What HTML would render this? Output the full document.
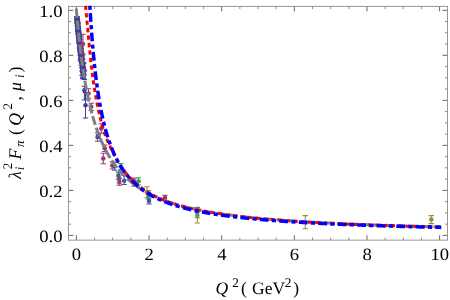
<!DOCTYPE html>
<html><head><meta charset="utf-8"><title>Pion form factor</title>
<style>
html,body{margin:0;padding:0;background:#fff;}
body{width:450px;height:300px;overflow:hidden;font-family:"Liberation Serif",serif;}
svg{display:block;}
</style></head><body>
<svg width="450" height="300" viewBox="0 0 450 300">
<rect x="0" y="0" width="450" height="300" fill="#ffffff"/>
<defs><clipPath id="c"><rect x="68.45" y="5.40" width="379.05" height="234.75"/></clipPath></defs>
<path d="M94.58 240.15v-2.60M94.58 6.40v2.60M112.74 240.15v-2.60M112.74 6.40v2.60M130.90 240.15v-2.60M130.90 6.40v2.60M167.22 240.15v-2.60M167.22 6.40v2.60M185.38 240.15v-2.60M185.38 6.40v2.60M203.54 240.15v-2.60M203.54 6.40v2.60M239.86 240.15v-2.60M239.86 6.40v2.60M258.02 240.15v-2.60M258.02 6.40v2.60M276.18 240.15v-2.60M276.18 6.40v2.60M312.50 240.15v-2.60M312.50 6.40v2.60M330.66 240.15v-2.60M330.66 6.40v2.60M348.82 240.15v-2.60M348.82 6.40v2.60M385.14 240.15v-2.60M385.14 6.40v2.60M403.30 240.15v-2.60M403.30 6.40v2.60M421.46 240.15v-2.60M421.46 6.40v2.60M68.45 224.15h2.60M447.50 224.15h-2.60M68.45 212.89h2.60M447.50 212.89h-2.60M68.45 201.63h2.60M447.50 201.63h-2.60M68.45 179.12h2.60M447.50 179.12h-2.60M68.45 167.87h2.60M447.50 167.87h-2.60M68.45 156.62h2.60M447.50 156.62h-2.60M68.45 134.11h2.60M447.50 134.11h-2.60M68.45 122.85h2.60M447.50 122.85h-2.60M68.45 111.59h2.60M447.50 111.59h-2.60M68.45 89.09h2.60M447.50 89.09h-2.60M68.45 77.83h2.60M447.50 77.83h-2.60M68.45 66.58h2.60M447.50 66.58h-2.60M68.45 44.06h2.60M447.50 44.06h-2.60M68.45 32.81h2.60M447.50 32.81h-2.60M68.45 21.56h2.60M447.50 21.56h-2.60" fill="none" stroke="#8a8a8a" stroke-width="1"/>
<path d="M76.42 240.15v-4.90M76.42 6.40v4.90M149.06 240.15v-4.90M149.06 6.40v4.90M221.70 240.15v-4.90M221.70 6.40v4.90M294.34 240.15v-4.90M294.34 6.40v4.90M366.98 240.15v-4.90M366.98 6.40v4.90M439.62 240.15v-4.90M439.62 6.40v4.90M68.45 235.40h4.90M447.50 235.40h-4.90M68.45 190.38h4.90M447.50 190.38h-4.90M68.45 145.36h4.90M447.50 145.36h-4.90M68.45 100.34h4.90M447.50 100.34h-4.90M68.45 55.32h4.90M447.50 55.32h-4.90M68.45 10.30h4.90M447.50 10.30h-4.90" fill="none" stroke="#646464" stroke-width="1"/>
<rect x="68.45" y="6.40" width="379.05" height="233.75" fill="none" stroke="#969696" stroke-width="1"/>
<g clip-path="url(#c)">
<path d="M77.02 17.29L77.09 18.04L77.15 18.79L77.22 19.53L77.29 20.27L77.35 21.00L77.42 21.73L77.49 22.45L77.55 23.17L77.62 23.88L77.69 24.59L77.75 25.29L77.82 25.99L77.89 26.69L77.95 27.38L78.02 28.06L78.09 28.74L78.15 29.42L78.22 30.09L78.29 30.76L78.36 31.42L78.42 32.08L78.49 32.74L78.56 33.39L78.62 34.04L78.69 34.68L78.76 35.32L78.82 35.95L78.89 36.58L78.96 37.21L79.02 37.83L79.09 38.45L79.16 39.07L79.22 39.68L79.29 40.29L79.36 40.89L79.42 41.50L79.49 42.09L79.56 42.69L79.62 43.28L79.69 43.86L79.76 44.45L79.82 45.03L79.89 45.60L79.96 46.18L80.02 46.75L80.09 47.31L80.16 47.88L80.23 48.44L80.29 48.99L80.36 49.54L80.43 50.09L80.49 50.64L80.56 51.19L80.63 51.73L80.69 52.26L80.76 52.80L80.83 53.33L80.89 53.86L80.96 54.38" fill="none" stroke="#3f3d99" stroke-width="5.2" stroke-opacity="0.92"/>
<g stroke="#3f3d99" fill="#3f3d99" stroke-width="1.03"><path d="M76.97 16.63V18.86M74.22 16.63H79.72M74.22 18.86H79.72" fill="none"/><circle cx="76.97" cy="17.75" r="2.08" stroke="none"/></g>
<g stroke="#3f3d99" fill="#3f3d99" stroke-width="1.04"><path d="M77.01 16.93V19.24M74.26 16.93H79.76M74.26 19.24H79.76" fill="none"/><circle cx="77.01" cy="18.08" r="2.09" stroke="none"/></g>
<g stroke="#3f3d99" fill="#3f3d99" stroke-width="1.04"><path d="M77.15 17.88V20.25M74.40 17.88H79.90M74.40 20.25H79.90" fill="none"/><circle cx="77.15" cy="19.07" r="2.09" stroke="none"/></g>
<g stroke="#3f3d99" fill="#3f3d99" stroke-width="1.05"><path d="M77.26 19.42V21.87M74.51 19.42H80.01M74.51 21.87H80.01" fill="none"/><circle cx="77.26" cy="20.64" r="2.10" stroke="none"/></g>
<g stroke="#3f3d99" fill="#3f3d99" stroke-width="1.05"><path d="M77.31 20.24V22.77M74.56 20.24H80.06M74.56 22.77H80.06" fill="none"/><circle cx="77.31" cy="21.51" r="2.10" stroke="none"/></g>
<g stroke="#3f3d99" fill="#3f3d99" stroke-width="1.05"><path d="M77.27 20.97V23.57M74.52 20.97H80.02M74.52 23.57H80.02" fill="none"/><circle cx="77.27" cy="22.27" r="2.10" stroke="none"/></g>
<g stroke="#3f3d99" fill="#3f3d99" stroke-width="1.06"><path d="M77.59 21.10V23.78M74.84 21.10H80.34M74.84 23.78H80.34" fill="none"/><circle cx="77.59" cy="22.44" r="2.11" stroke="none"/></g>
<g stroke="#3f3d99" fill="#3f3d99" stroke-width="1.06"><path d="M77.44 22.41V25.17M74.69 22.41H80.19M74.69 25.17H80.19" fill="none"/><circle cx="77.44" cy="23.79" r="2.11" stroke="none"/></g>
<g stroke="#3f3d99" fill="#3f3d99" stroke-width="1.07"><path d="M77.80 22.19V25.03M75.05 22.19H80.55M75.05 25.03H80.55" fill="none"/><circle cx="77.80" cy="23.61" r="2.12" stroke="none"/></g>
<g stroke="#3f3d99" fill="#3f3d99" stroke-width="1.07"><path d="M77.65 23.02V25.93M74.90 23.02H80.40M74.90 25.93H80.40" fill="none"/><circle cx="77.65" cy="24.48" r="2.12" stroke="none"/></g>
<g stroke="#3f3d99" fill="#3f3d99" stroke-width="1.07"><path d="M77.56 22.92V25.91M74.81 22.92H80.31M74.81 25.91H80.31" fill="none"/><circle cx="77.56" cy="24.41" r="2.12" stroke="none"/></g>
<g stroke="#3f3d99" fill="#3f3d99" stroke-width="1.08"><path d="M77.74 23.86V26.93M74.99 23.86H80.49M74.99 26.93H80.49" fill="none"/><circle cx="77.74" cy="25.39" r="2.13" stroke="none"/></g>
<g stroke="#3f3d99" fill="#3f3d99" stroke-width="1.08"><path d="M77.75 26.48V29.67M75.00 26.48H80.50M75.00 29.67H80.50" fill="none"/><circle cx="77.75" cy="28.08" r="2.13" stroke="none"/></g>
<g stroke="#3f3d99" fill="#3f3d99" stroke-width="1.09"><path d="M78.18 26.84V30.10M75.43 26.84H80.93M75.43 30.10H80.93" fill="none"/><circle cx="78.18" cy="28.47" r="2.14" stroke="none"/></g>
<g stroke="#3f3d99" fill="#3f3d99" stroke-width="1.09"><path d="M78.14 27.85V31.19M75.39 27.85H80.89M75.39 31.19H80.89" fill="none"/><circle cx="78.14" cy="29.52" r="2.14" stroke="none"/></g>
<g stroke="#3f3d99" fill="#3f3d99" stroke-width="1.10"><path d="M78.09 27.46V30.88M75.34 27.46H80.84M75.34 30.88H80.84" fill="none"/><circle cx="78.09" cy="29.17" r="2.15" stroke="none"/></g>
<g stroke="#3f3d99" fill="#3f3d99" stroke-width="1.10"><path d="M77.97 28.37V31.86M75.22 28.37H80.72M75.22 31.86H80.72" fill="none"/><circle cx="77.97" cy="30.12" r="2.15" stroke="none"/></g>
<g stroke="#3f3d99" fill="#3f3d99" stroke-width="1.10"><path d="M78.13 30.30V33.86M75.38 30.30H80.88M75.38 33.86H80.88" fill="none"/><circle cx="78.13" cy="32.08" r="2.15" stroke="none"/></g>
<g stroke="#3f3d99" fill="#3f3d99" stroke-width="1.11"><path d="M78.33 29.39V33.03M75.58 29.39H81.08M75.58 33.03H81.08" fill="none"/><circle cx="78.33" cy="31.21" r="2.16" stroke="none"/></g>
<g stroke="#3f3d99" fill="#3f3d99" stroke-width="1.11"><path d="M78.51 31.03V34.75M75.76 31.03H81.26M75.76 34.75H81.26" fill="none"/><circle cx="78.51" cy="32.89" r="2.16" stroke="none"/></g>
<g stroke="#3f3d99" fill="#3f3d99" stroke-width="1.12"><path d="M78.39 31.34V35.13M75.64 31.34H81.14M75.64 35.13H81.14" fill="none"/><circle cx="78.39" cy="33.23" r="2.17" stroke="none"/></g>
<g stroke="#3f3d99" fill="#3f3d99" stroke-width="1.12"><path d="M78.74 31.05V34.93M75.99 31.05H81.49M75.99 34.93H81.49" fill="none"/><circle cx="78.74" cy="32.99" r="2.17" stroke="none"/></g>
<g stroke="#3f3d99" fill="#3f3d99" stroke-width="1.12"><path d="M78.73 33.27V37.22M75.98 33.27H81.48M75.98 37.22H81.48" fill="none"/><circle cx="78.73" cy="35.24" r="2.17" stroke="none"/></g>
<g stroke="#3f3d99" fill="#3f3d99" stroke-width="1.13"><path d="M79.03 33.12V37.15M76.28 33.12H81.78M76.28 37.15H81.78" fill="none"/><circle cx="79.03" cy="35.14" r="2.18" stroke="none"/></g>
<g stroke="#3f3d99" fill="#3f3d99" stroke-width="1.13"><path d="M78.65 33.17V37.27M75.90 33.17H81.40M75.90 37.27H81.40" fill="none"/><circle cx="78.65" cy="35.22" r="2.18" stroke="none"/></g>
<g stroke="#3f3d99" fill="#3f3d99" stroke-width="1.14"><path d="M78.58 33.04V37.21M75.83 33.04H81.33M75.83 37.21H81.33" fill="none"/><circle cx="78.58" cy="35.13" r="2.19" stroke="none"/></g>
<g stroke="#3f3d99" fill="#3f3d99" stroke-width="1.14"><path d="M79.18 35.40V39.65M76.43 35.40H81.93M76.43 39.65H81.93" fill="none"/><circle cx="79.18" cy="37.52" r="2.19" stroke="none"/></g>
<g stroke="#3f3d99" fill="#3f3d99" stroke-width="1.14"><path d="M79.03 36.88V41.21M76.28 36.88H81.78M76.28 41.21H81.78" fill="none"/><circle cx="79.03" cy="39.05" r="2.19" stroke="none"/></g>
<g stroke="#3f3d99" fill="#3f3d99" stroke-width="1.15"><path d="M79.26 37.90V42.31M76.51 37.90H82.01M76.51 42.31H82.01" fill="none"/><circle cx="79.26" cy="40.11" r="2.20" stroke="none"/></g>
<g stroke="#3f3d99" fill="#3f3d99" stroke-width="1.15"><path d="M79.25 36.17V40.66M76.50 36.17H82.00M76.50 40.66H82.00" fill="none"/><circle cx="79.25" cy="38.42" r="2.20" stroke="none"/></g>
<g stroke="#3f3d99" fill="#3f3d99" stroke-width="1.16"><path d="M79.08 36.41V40.97M76.33 36.41H81.83M76.33 40.97H81.83" fill="none"/><circle cx="79.08" cy="38.69" r="2.21" stroke="none"/></g>
<g stroke="#3f3d99" fill="#3f3d99" stroke-width="1.16"><path d="M79.42 37.62V42.26M76.67 37.62H82.17M76.67 42.26H82.17" fill="none"/><circle cx="79.42" cy="39.94" r="2.21" stroke="none"/></g>
<g stroke="#3f3d99" fill="#3f3d99" stroke-width="1.17"><path d="M79.39 38.94V43.69M76.64 38.94H82.14M76.64 43.69H82.14" fill="none"/><circle cx="79.39" cy="41.31" r="2.22" stroke="none"/></g>
<g stroke="#3f3d99" fill="#3f3d99" stroke-width="1.18"><path d="M80.13 39.78V44.76M77.38 39.78H82.88M77.38 44.76H82.88" fill="none"/><circle cx="80.13" cy="42.27" r="2.23" stroke="none"/></g>
<g stroke="#3f3d99" fill="#3f3d99" stroke-width="1.19"><path d="M80.06 42.92V48.13M77.31 42.92H82.81M77.31 48.13H82.81" fill="none"/><circle cx="80.06" cy="45.52" r="2.24" stroke="none"/></g>
<g stroke="#3f3d99" fill="#3f3d99" stroke-width="1.20"><path d="M80.33 46.36V51.80M77.58 46.36H83.08M77.58 51.80H83.08" fill="none"/><circle cx="80.33" cy="49.08" r="2.25" stroke="none"/></g>
<g stroke="#3f3d99" fill="#3f3d99" stroke-width="1.21"><path d="M80.94 45.65V51.32M78.19 45.65H83.69M78.19 51.32H83.69" fill="none"/><circle cx="80.94" cy="48.48" r="2.26" stroke="none"/></g>
<g stroke="#3f3d99" fill="#3f3d99" stroke-width="1.23"><path d="M80.23 46.51V52.41M77.48 46.51H82.98M77.48 52.41H82.98" fill="none"/><circle cx="80.23" cy="49.46" r="2.28" stroke="none"/></g>
<g stroke="#3f3d99" fill="#3f3d99" stroke-width="1.24"><path d="M80.98 50.12V56.25M78.23 50.12H83.73M78.23 56.25H83.73" fill="none"/><circle cx="80.98" cy="53.19" r="2.29" stroke="none"/></g>
<g stroke="#3f3d99" fill="#3f3d99" stroke-width="1.25"><path d="M80.90 53.52V59.87M78.15 53.52H83.65M78.15 59.87H83.65" fill="none"/><circle cx="80.90" cy="56.70" r="2.30" stroke="none"/></g>
<g stroke="#3f3d99" fill="#3f3d99" stroke-width="1.25"><path d="M80.58 54.45V61.04M77.83 54.45H83.33M77.83 61.04H83.33" fill="none"/><circle cx="80.58" cy="57.75" r="2.31" stroke="none"/></g>
<g stroke="#3f3d99" fill="#3f3d99" stroke-width="1.25"><path d="M81.83 56.64V63.45M79.08 56.64H84.58M79.08 63.45H84.58" fill="none"/><circle cx="81.83" cy="60.04" r="2.32" stroke="none"/></g>
<g stroke="#3f3d99" fill="#3f3d99" stroke-width="1.25"><path d="M81.25 58.12V65.21M78.50 58.12H84.00M78.50 65.21H84.00" fill="none"/><circle cx="81.25" cy="61.66" r="2.34" stroke="none"/></g>
<g stroke="#3f3d99" fill="#3f3d99" stroke-width="1.25"><path d="M82.57 58.95V66.38M79.82 58.95H85.32M79.82 66.38H85.32" fill="none"/><circle cx="82.57" cy="62.66" r="2.35" stroke="none"/></g>
<g stroke="#3f3d99" fill="#3f3d99" stroke-width="1.25"><path d="M82.26 63.25V71.06M79.51 63.25H85.01M79.51 71.06H85.01" fill="none"/><circle cx="82.26" cy="67.15" r="2.35" stroke="none"/></g>
<g stroke="#3f3d99" fill="#3f3d99" stroke-width="1.25"><path d="M83.32 62.72V70.92M80.57 62.72H86.07M80.57 70.92H86.07" fill="none"/><circle cx="83.32" cy="66.82" r="2.35" stroke="none"/></g>
<g stroke="#3f3d99" fill="#3f3d99" stroke-width="1.25"><path d="M83.65 63.16V71.74M80.90 63.16H86.40M80.90 71.74H86.40" fill="none"/><circle cx="83.65" cy="67.45" r="2.35" stroke="none"/></g>
<g stroke="#3f3d99" fill="#3f3d99" stroke-width="1.25"><path d="M83.29 69.02V77.98M80.54 69.02H86.04M80.54 77.98H86.04" fill="none"/><circle cx="83.29" cy="73.50" r="2.35" stroke="none"/></g>
<g stroke="#3f3d99" fill="#3f3d99" stroke-width="1.25"><path d="M84.34 70.19V79.46M81.59 70.19H87.09M81.59 79.46H87.09" fill="none"/><circle cx="84.34" cy="74.82" r="2.35" stroke="none"/></g>
<g stroke="#3f3d99" fill="#3f3d99" stroke-width="1.17"><path d="M79.18 38.48V43.34M76.43 38.48H81.93M76.43 43.34H81.93" fill="none"/><circle cx="79.18" cy="40.91" r="2.22" stroke="none"/></g>
<g stroke="#3f3d99" fill="#3f3d99" stroke-width="1.18"><path d="M79.47 43.16V48.26M76.72 43.16H82.22M76.72 48.26H82.22" fill="none"/><circle cx="79.47" cy="45.71" r="2.23" stroke="none"/></g>
<g stroke="#3f3d99" fill="#3f3d99" stroke-width="1.20"><path d="M79.96 44.76V50.08M77.21 44.76H82.71M77.21 50.08H82.71" fill="none"/><circle cx="79.96" cy="47.42" r="2.25" stroke="none"/></g>
<g stroke="#3f3d99" fill="#3f3d99" stroke-width="1.21"><path d="M79.90 45.05V50.61M77.15 45.05H82.65M77.15 50.61H82.65" fill="none"/><circle cx="79.90" cy="47.83" r="2.26" stroke="none"/></g>
<g stroke="#3f3d99" fill="#3f3d99" stroke-width="1.22"><path d="M80.31 49.28V55.07M77.56 49.28H83.06M77.56 55.07H83.06" fill="none"/><circle cx="80.31" cy="52.17" r="2.27" stroke="none"/></g>
<g stroke="#3f3d99" fill="#3f3d99" stroke-width="1.23"><path d="M80.73 49.37V55.39M77.98 49.37H83.48M77.98 55.39H83.48" fill="none"/><circle cx="80.73" cy="52.38" r="2.28" stroke="none"/></g>
<g stroke="#3f3d99" fill="#3f3d99" stroke-width="1.24"><path d="M81.13 48.25V54.50M78.38 48.25H83.88M78.38 54.50H83.88" fill="none"/><circle cx="81.13" cy="51.38" r="2.29" stroke="none"/></g>
<g stroke="#3f3d99" fill="#3f3d99" stroke-width="1.25"><path d="M81.25 51.92V58.40M78.50 51.92H84.00M78.50 58.40H84.00" fill="none"/><circle cx="81.25" cy="55.16" r="2.31" stroke="none"/></g>
<g stroke="#3f3d99" fill="#3f3d99" stroke-width="1.25"><path d="M80.57 52.66V59.36M77.82 52.66H83.32M77.82 59.36H83.32" fill="none"/><circle cx="80.57" cy="56.01" r="2.32" stroke="none"/></g>
<g stroke="#3f3d99" fill="#3f3d99" stroke-width="1.25"><path d="M81.99 53.22V60.19M79.24 53.22H84.74M79.24 60.19H84.74" fill="none"/><circle cx="81.99" cy="56.70" r="2.33" stroke="none"/></g>
<g stroke="#3f3d99" fill="#3f3d99" stroke-width="1.25"><path d="M82.27 55.01V62.25M79.52 55.01H85.02M79.52 62.25H85.02" fill="none"/><circle cx="82.27" cy="58.63" r="2.35" stroke="none"/></g>
<g stroke="#3f3d99" fill="#3f3d99" stroke-width="1.25"><path d="M82.00 60.16V67.78M79.25 60.16H84.75M79.25 67.78H84.75" fill="none"/><circle cx="82.00" cy="63.97" r="2.35" stroke="none"/></g>
<g stroke="#3f3d99" fill="#3f3d99" stroke-width="1.25"><path d="M82.74 64.34V72.35M79.99 64.34H85.49M79.99 72.35H85.49" fill="none"/><circle cx="82.74" cy="68.34" r="2.35" stroke="none"/></g>
<g stroke="#3f3d99" fill="#3f3d99" stroke-width="1.25"><path d="M82.19 67.02V75.41M79.44 67.02H84.94M79.44 75.41H84.94" fill="none"/><circle cx="82.19" cy="71.21" r="2.35" stroke="none"/></g>
<g stroke="#3f3d99" fill="#3f3d99" stroke-width="1.25"><path d="M82.71 68.37V77.14M79.96 68.37H85.46M79.96 77.14H85.46" fill="none"/><circle cx="82.71" cy="72.76" r="2.35" stroke="none"/></g>
<g stroke="#3f3d99" fill="#3f3d99" stroke-width="1.25"><path d="M82.86 69.46V78.57M80.11 69.46H85.61M80.11 78.57H85.61" fill="none"/><circle cx="82.86" cy="74.02" r="2.35" stroke="none"/></g>
<g stroke="#3f3d99" fill="#3f3d99" stroke-width="1.05"><path d="M84.40 86.30V100.00M81.75 86.30H87.05M81.75 100.00H87.05" fill="none"/><circle cx="84.40" cy="90.30" r="2.25" stroke="none"/></g>
<g stroke="#3f3d99" fill="#3f3d99" stroke-width="1.05"><path d="M85.50 92.40V118.00M82.85 92.40H88.15M82.85 118.00H88.15" fill="none"/><circle cx="85.50" cy="105.20" r="2.25" stroke="none"/></g>
<g stroke="#993871" fill="#993871" stroke-width="1.05"><path d="M83.00 34.20V54.50M80.35 34.20H85.65M80.35 54.50H85.65" fill="none"/><circle cx="83.00" cy="44.00" r="2.25" stroke="none"/></g>
<g stroke="#993871" fill="#993871" stroke-width="1.05"><path d="M88.50 88.80V98.50M85.85 88.80H91.15M85.85 98.50H91.15" fill="none"/><circle cx="88.50" cy="93.40" r="2.25" stroke="none"/></g>
<g stroke="#993871" fill="#993871" stroke-width="1.05"><path d="M91.30 103.30V110.50M88.65 103.30H93.95M88.65 110.50H93.95" fill="none"/><circle cx="91.30" cy="106.80" r="2.25" stroke="none"/></g>
<g stroke="#993871" fill="#993871" stroke-width="1.05"><path d="M101.30 123.70V133.20M98.65 123.70H103.95M98.65 133.20H103.95" fill="none"/><circle cx="101.30" cy="128.50" r="2.25" stroke="none"/></g>
<g stroke="#993871" fill="#993871" stroke-width="1.05"><path d="M97.50 132.80V141.30M94.85 132.80H100.15M94.85 141.30H100.15" fill="none"/><circle cx="97.50" cy="137.00" r="2.25" stroke="none"/></g>
<g stroke="#993871" fill="#993871" stroke-width="1.05"><path d="M104.70 145.00V151.50M102.05 145.00H107.35M102.05 151.50H107.35" fill="none"/><circle cx="104.70" cy="148.20" r="2.25" stroke="none"/></g>
<g stroke="#993871" fill="#993871" stroke-width="1.05"><path d="M103.30 153.30V163.70M100.65 153.30H105.95M100.65 163.70H105.95" fill="none"/><circle cx="103.30" cy="158.50" r="2.25" stroke="none"/></g>
<g stroke="#993871" fill="#993871" stroke-width="1.05"><path d="M112.30 162.00V169.00M109.65 162.00H114.95M109.65 169.00H114.95" fill="none"/><circle cx="112.30" cy="165.50" r="2.25" stroke="none"/></g>
<g stroke="#993871" fill="#993871" stroke-width="1.05"><path d="M134.20 177.90V186.10M131.55 177.90H136.85M131.55 186.10H136.85" fill="none"/><circle cx="134.20" cy="181.20" r="2.25" stroke="none"/></g>
<g stroke="#993871" fill="#993871" stroke-width="1.05"><path d="M165.00 195.30V200.30M162.35 195.30H167.65M162.35 200.30H167.65" fill="none"/><circle cx="165.00" cy="197.80" r="2.25" stroke="none"/></g>
<g stroke="#998b3d" fill="#998b3d" stroke-width="1.05"><path d="M119.30 172.30V183.80M116.65 172.30H121.95M116.65 183.80H121.95" fill="none"/><circle cx="119.30" cy="178.00" r="2.25" stroke="none"/></g>
<g stroke="#998b3d" fill="#998b3d" stroke-width="1.05"><path d="M147.00 186.70V197.70M144.35 186.70H149.65M144.35 197.70H149.65" fill="none"/><circle cx="147.00" cy="192.20" r="2.25" stroke="none"/></g>
<g stroke="#998b3d" fill="#998b3d" stroke-width="1.05"><path d="M197.30 207.60V223.00M194.65 207.60H199.95M194.65 223.00H199.95" fill="none"/><circle cx="197.30" cy="215.30" r="2.25" stroke="none"/></g>
<g stroke="#998b3d" fill="#998b3d" stroke-width="1.05"><path d="M305.30 215.60V228.70M302.65 215.60H307.95M302.65 228.70H307.95" fill="none"/><circle cx="305.30" cy="222.10" r="2.25" stroke="none"/></g>
<g stroke="#998b3d" fill="#998b3d" stroke-width="1.05"><path d="M431.30 215.60V223.60M428.65 215.60H433.95M428.65 223.60H433.95" fill="none"/><circle cx="431.30" cy="219.60" r="2.25" stroke="none"/></g>
<g stroke="#993871" fill="#993871" stroke-width="1.05"><path d="M119.30 178.30V185.30M116.65 178.30H121.95M116.65 185.30H121.95" fill="none"/><circle cx="119.30" cy="181.70" r="2.25" stroke="none"/></g>
<g stroke="#3d9956" fill="#3d9956" stroke-width="1.05"><path d="M120.70 163.50V169.50M118.05 163.50H123.35M118.05 169.50H123.35" fill="none"/><circle cx="120.70" cy="166.50" r="2.25" stroke="none"/></g>
<g stroke="#3d9956" fill="#3d9956" stroke-width="1.05"><path d="M138.50 177.70V185.00M135.85 177.70H141.15M135.85 185.00H141.15" fill="none"/><circle cx="138.50" cy="181.30" r="2.25" stroke="none"/></g>
<g stroke="#3d9956" fill="#3d9956" stroke-width="1.05"><path d="M148.50 190.70V199.30M145.85 190.70H151.15M145.85 199.30H151.15" fill="none"/><circle cx="148.50" cy="195.00" r="2.25" stroke="none"/></g>
<g stroke="#3d9956" fill="#3d9956" stroke-width="1.05"><path d="M197.30 207.30V217.70M194.65 207.30H199.95M194.65 217.70H199.95" fill="none"/><circle cx="197.30" cy="212.50" r="2.25" stroke="none"/></g>
<g stroke="#3d5a99" fill="#3d5a99" stroke-width="1.05"><path d="M98.50 134.50V138.50M95.85 134.50H101.15M95.85 138.50H101.15" fill="none"/><circle cx="98.50" cy="136.50" r="2.25" stroke="none"/></g>
<g stroke="#3d5a99" fill="#3d5a99" stroke-width="1.05"><path d="M114.70 162.30V170.30M112.05 162.30H117.35M112.05 170.30H117.35" fill="none"/><circle cx="114.70" cy="166.30" r="2.25" stroke="none"/></g>
<g stroke="#3d5a99" fill="#3d5a99" stroke-width="1.05"><path d="M118.40 172.00V179.20M115.75 172.00H121.05M115.75 179.20H121.05" fill="none"/><circle cx="118.40" cy="175.60" r="2.25" stroke="none"/></g>
<g stroke="#3d5a99" fill="#3d5a99" stroke-width="1.05"><path d="M124.20 175.50V184.50M121.55 175.50H126.85M121.55 184.50H126.85" fill="none"/><circle cx="124.20" cy="180.80" r="2.25" stroke="none"/></g>
<g stroke="#3d5a99" fill="#3d5a99" stroke-width="1.05"><path d="M149.00 198.00V204.00M146.35 198.00H151.65M146.35 204.00H151.65" fill="none"/><circle cx="149.00" cy="201.00" r="2.25" stroke="none"/></g>
<path d="M76.42 8.55L76.42 10.30L76.42 10.31L76.42 10.35L76.43 10.41L76.44 10.49L76.45 10.60L76.46 10.74L76.47 10.90L76.48 11.08L76.50 11.28L76.52 11.51L76.54 11.77L76.57 12.04L76.59 12.34L76.62 12.66L76.65 13.01L76.68 13.38L76.71 13.77L76.75 14.18L76.79 14.62L76.83 15.07L76.87 15.55L76.91 16.05L76.96 16.57L77.00 17.11L77.05 17.67L77.10 18.25L77.16 18.85L77.21 19.47L77.27 20.11L77.33 20.76L77.39 21.44L77.46 22.13L77.52 22.84L77.59 23.57L77.66 24.31L77.73 25.07L77.81 25.84L77.88 26.64L77.96 27.44L78.04 28.26L78.12 29.09L78.21 29.94L78.29 30.80L78.38 31.68L78.47 32.57L78.56 33.46L78.66 34.38L78.75 35.30L78.85 36.23L78.95 37.17L79.05 38.13L79.16 39.09L79.27 40.06L79.37 41.05L79.48 42.04L79.60 43.03L79.71 44.04L79.83 45.05L79.95 46.07L80.07 47.10L80.19 48.13L80.31 49.17L80.44 50.21L80.57 51.26L80.70 52.32L80.83 53.38L80.97 54.44L81.10 55.51L81.24 56.58L81.38 57.65L81.53 58.72L81.67 59.80L81.82 60.88L81.97 61.97L82.12 63.05L82.27 64.13L82.43 65.22L82.58 66.31L82.74 67.39L82.90 68.48L83.07 69.57L83.23 70.66L83.40 71.74L83.57 72.83L83.74 73.92L83.91 75.00L84.09 76.08L84.26 77.16L84.44 78.24L84.62 79.32L84.81 80.39L84.99 81.47L85.18 82.54L85.37 83.60L85.56 84.67L85.76 85.73L85.95 86.79L86.15 87.84L86.35 88.89L86.55 89.94L86.75 90.98L86.96 92.02L87.17 93.06L87.38 94.09L87.59 95.12L87.80 96.14L88.02 97.16L88.23 98.17L88.45 99.18L88.68 100.19L88.90 101.18L89.13 102.18L89.35 103.17L89.58 104.15L89.82 105.13L90.05 106.11L90.29 107.07L90.52 108.04L90.76 109.00L91.01 109.95L91.25 110.89L91.50 111.84L91.74 112.77L91.99 113.70L92.25 114.63L92.50 115.54L92.76 116.46L93.02 117.36L93.28 118.27L93.54 119.16L93.80 120.05L94.07 120.93L94.34 121.81L94.61 122.68L94.88 123.55L95.16 124.41L95.43 125.26L95.71 126.11L95.99 126.95L96.27 127.79L96.56 128.62L96.84 129.44L97.13 130.26L97.42 131.07L97.72 131.88L98.01 132.68L98.31 133.47L98.61 134.26L98.91 135.04L99.21 135.82L99.52 136.59L99.82 137.36L100.13 138.12L100.44 138.87L100.76 139.62L101.07 140.36L101.39 141.09L101.71 141.82L102.03 142.55L102.35 143.27L102.68 143.98L103.00 144.69L103.33 145.39L103.66 146.08L104.00 146.77L104.33 147.46L104.67 148.14L105.01 148.81L105.35 149.48L105.69 150.14L106.04 150.80L106.39 151.45L106.74 152.10L107.09 152.74L107.44 153.37L107.80 154.00L108.15 154.63L108.51 155.25L108.88 155.86L109.24 156.47L109.60 157.08L109.97 157.68L110.34 158.27L110.71 158.86L111.09 159.44L111.46 160.02L111.84 160.60L112.22 161.17L112.60 161.73L112.99 162.29L113.37 162.85L113.76 163.40L114.15 163.94L114.54 164.48L114.94 165.02L115.33 165.55L115.73 166.08L116.13 166.60L116.53 167.12L116.94 167.63L117.34 168.14L117.75 168.64L118.16 169.14L118.57 169.64L118.99 170.13L119.40 170.62L119.82 171.10L120.24 171.58L120.67 172.06L121.09 172.53L121.52 172.99L121.94 173.45L122.38 173.91L122.81 174.37L123.24 174.82L123.68 175.26L124.12 175.70L124.56 176.14L125.00 176.58L125.45 177.01L125.89 177.43L126.34 177.86L126.79 178.28L127.24 178.69L127.70 179.10L128.16 179.51L128.61 179.92L129.08 180.32L129.54 180.72L130.00 181.11L130.47 181.50L130.94 181.89L131.41 182.27L131.88 182.65L132.36 183.03L132.84 183.40L133.31 183.77L133.80 184.14L134.28 184.50L134.76 184.86L135.25 185.22L135.74 185.58L136.23 185.93L136.73 186.27L137.22 186.62L137.72 186.96L138.22 187.30L138.72 187.64L139.22 187.97L139.73 188.30L140.24 188.63L140.74 188.95L141.26 189.27L141.77 189.59L142.29 189.91L142.80 190.22L143.32 190.53L143.84 190.84L144.37 191.14L144.89 191.44L145.42 191.74L145.95 192.04L146.48 192.33L147.02 192.62L147.55 192.91L148.09 193.20L148.63 193.48L149.17 193.77L149.72 194.04L150.26 194.32L150.81 194.60L151.36 194.87L151.91 195.14L152.47 195.40L153.02 195.67L153.58 195.93L154.14 196.19L154.70 196.45L155.27 196.70L155.83 196.96L156.40 197.21L156.97 197.46L157.54 197.71L158.12 197.95L158.69 198.19L159.27 198.43L159.85 198.67L160.44 198.91L161.02 199.14L161.61 199.38L162.20 199.61L162.79 199.83L163.38 200.06L163.97 200.29L164.57 200.51L165.17 200.73L165.77 200.95L166.37 201.16L166.98 201.38L167.58 201.59L168.19 201.80L168.80 202.01L169.42 202.22L170.03 202.43L170.65 202.63L171.27 202.83L171.89 203.04L172.51 203.24L173.14 203.43L173.76 203.63L174.39 203.82L175.02 204.02L175.66 204.21L176.29 204.40L176.93 204.58L177.57 204.77L178.21 204.96L178.85 205.14L179.50 205.32L180.14 205.50L180.79 205.68L181.44 205.86L182.10 206.03L182.75 206.21L183.41 206.38L184.07 206.55L184.73 206.72L185.39 206.89L186.06 207.06L186.73 207.22L187.40 207.39L188.07 207.55L188.74 207.71L189.42 207.87L190.10 208.03L190.78 208.19L191.46 208.35L192.14 208.50L192.83 208.66L193.51 208.81L194.20 208.96L194.90 209.11L195.59 209.26L196.29 209.41L196.98 209.56L197.68 209.70L198.39 209.85L199.09 209.99L199.80 210.13L200.50 210.27L201.21 210.41L201.93 210.55L202.64 210.69L203.36 210.83L204.07 210.96L204.79 211.10L205.52 211.23L206.24 211.36L206.97 211.49L207.70 211.62L208.43 211.75L209.16 211.88L209.89 212.01L210.63 212.14L211.37 212.26L212.11 212.39L212.85 212.51L213.59 212.63L214.34 212.75L215.09 212.87L215.84 212.99L216.59 213.11L217.35 213.23L218.10 213.35L218.86 213.46L219.62 213.58L220.39 213.69L221.15 213.81L221.92 213.92L222.69 214.03L223.46 214.14L224.23 214.25L225.00 214.36L225.78 214.47L226.56 214.58L227.34 214.69L228.12 214.79L228.91 214.90L229.70 215.00L230.49 215.10L231.28 215.21L232.07 215.31L232.87 215.41L233.66 215.51L234.46 215.61L235.26 215.71L236.07 215.81L236.87 215.91L237.68 216.01L238.49 216.10L239.30 216.20L240.11 216.29L240.93 216.39L241.75 216.48L242.56 216.57L243.39 216.67L244.21 216.76L245.04 216.85L245.86 216.94L246.69 217.03L247.52 217.12L248.36 217.21L249.19 217.29L250.03 217.38L250.87 217.47L251.71 217.55L252.56 217.64L253.40 217.72L254.25 217.81L255.10 217.89L255.95 217.97L256.81 218.06L257.66 218.14L258.52 218.22L259.38 218.30L260.24 218.38L261.11 218.46L261.97 218.54L262.84 218.62L263.71 218.70L264.58 218.77L265.46 218.85L266.33 218.93L267.21 219.00L268.09 219.08L268.97 219.15L269.86 219.23L270.74 219.30L271.63 219.37L272.52 219.45L273.41 219.52L274.31 219.59L275.21 219.66L276.10 219.73L277.00 219.80L277.91 219.87L278.81 219.94L279.72 220.01L280.63 220.08L281.54 220.15L282.45 220.22L283.36 220.28L284.28 220.35L285.20 220.42L286.12 220.48L287.04 220.55L287.97 220.61L288.90 220.68L289.82 220.74L290.75 220.81L291.69 220.87L292.62 220.93L293.56 221.00L294.50 221.06L295.44 221.12L296.38 221.18L297.33 221.24L298.27 221.30L299.22 221.36L300.18 221.42L301.13 221.48L302.08 221.54L303.04 221.60L304.00 221.66L304.96 221.72L305.92 221.77L306.89 221.83L307.86 221.89L308.83 221.94L309.80 222.00L310.77 222.06L311.75 222.11L312.72 222.17L313.70 222.22L314.69 222.28L315.67 222.33L316.65 222.38L317.64 222.44L318.63 222.49L319.62 222.54L320.62 222.60L321.61 222.65L322.61 222.70L323.61 222.75L324.61 222.80L325.62 222.85L326.62 222.90L327.63 222.95L328.64 223.00L329.65 223.05L330.67 223.10L331.68 223.15L332.70 223.20L333.72 223.25L334.74 223.30L335.77 223.35L336.79 223.39L337.82 223.44L338.85 223.49L339.88 223.54L340.92 223.58L341.95 223.63L342.99 223.67L344.03 223.72L345.07 223.77L346.12 223.81L347.16 223.86L348.21 223.90L349.26 223.94L350.31 223.99L351.37 224.03L352.43 224.08L353.48 224.12L354.54 224.16L355.61 224.21L356.67 224.25L357.74 224.29L358.81 224.33L359.88 224.38L360.95 224.42L362.03 224.46L363.10 224.50L364.18 224.54L365.26 224.58L366.34 224.62L367.43 224.66L368.52 224.70L369.60 224.74L370.70 224.78L371.79 224.82L372.88 224.86L373.98 224.90L375.08 224.94L376.18 224.98L377.28 225.02L378.39 225.05L379.50 225.09L380.61 225.13L381.72 225.17L382.83 225.20L383.94 225.24L385.06 225.28L386.18 225.31L387.30 225.35L388.43 225.39L389.55 225.42L390.68 225.46L391.81 225.49L392.94 225.53L394.07 225.57L395.21 225.60L396.35 225.64L397.49 225.67L398.63 225.70L399.77 225.74L400.92 225.77L402.06 225.81L403.21 225.84L404.37 225.87L405.52 225.91L406.67 225.94L407.83 225.97L408.99 226.01L410.15 226.04L411.32 226.07L412.48 226.11L413.65 226.14L414.82 226.17L415.99 226.20L417.17 226.23L418.34 226.27L419.52 226.30L420.70 226.33L421.88 226.36L423.07 226.39L424.25 226.42L425.44 226.45L426.63 226.48L427.82 226.51L429.02 226.54L430.22 226.57L431.41 226.60L432.61 226.63L433.82 226.66L435.02 226.69L436.23 226.72L437.44 226.75L438.65 226.78L439.86 226.81L441.07 226.84" fill="none" stroke="#808080" stroke-width="3" stroke-dasharray="9.25 2.85" stroke-dashoffset="0"/>
<path d="M85.57 5.55L85.63 6.23L85.69 6.90L85.75 7.57L85.80 8.23L85.86 8.90L85.92 9.56L85.98 10.22L86.04 10.88L86.10 11.54L86.15 12.20L86.21 12.86L86.28 13.52L86.34 14.17L86.40 14.83L86.46 15.50L86.52 16.16L86.58 16.82L86.64 17.49L86.71 18.16L86.77 18.83L86.84 19.51L86.90 20.18L86.96 20.86L87.03 21.55L87.09 22.24L87.16 22.93L87.23 23.63L87.29 24.33L87.36 25.03L87.43 25.74L87.49 26.46L87.56 27.18L87.63 27.91L87.70 28.64L87.77 29.38L87.84 30.12L87.91 30.87L87.98 31.63L88.05 32.39L88.12 33.16L88.20 33.94L88.27 34.72L88.34 35.51L88.42 36.31L88.49 37.12L88.56 37.93L88.64 38.74L88.71 39.56L88.79 40.38L88.87 41.20L88.94 42.03L89.02 42.86L89.10 43.69L89.17 44.52L89.25 45.35L89.33 46.18L89.41 47.02L89.49 47.85L89.57 48.69L89.65 49.52L89.74 50.36L89.82 51.19L89.90 52.02L89.98 52.86L90.07 53.69L90.15 54.52L90.23 55.35L90.32 56.18L90.41 57.01L90.49 57.83L90.58 58.66L90.67 59.48L90.75 60.30L90.84 61.11L90.93 61.93L91.02 62.74L91.11 63.55L91.20 64.35L91.29 65.15L91.38 65.95L91.48 66.75L91.57 67.54L91.66 68.33L91.76 69.11L91.85 69.89L91.94 70.67L92.04 71.44L92.14 72.21L92.23 72.97L92.33 73.73L92.43 74.48L92.53 75.23L92.63 75.98L92.73 76.72L92.83 77.46L92.93 78.20L93.03 78.93L93.13 79.66L93.23 80.39L93.34 81.12L93.44 81.84L93.55 82.56L93.65 83.27L93.76 83.99L93.87 84.70L93.97 85.40L94.08 86.11L94.19 86.81L94.30 87.51L94.41 88.21L94.52 88.90L94.63 89.60L94.74 90.29L94.86 90.97L94.97 91.66L95.09 92.34L95.20 93.02L95.32 93.70L95.43 94.38L95.55 95.05L95.67 95.72L95.79 96.39L95.91 97.06L96.03 97.72L96.15 98.38L96.27 99.05L96.39 99.70L96.51 100.36L96.64 101.02L96.76 101.67L96.89 102.32L97.01 102.97L97.14 103.62L97.27 104.26L97.40 104.90L97.52 105.54L97.65 106.18L97.79 106.82L97.92 107.46L98.05 108.09L98.18 108.73L98.32 109.36L98.45 109.99L98.59 110.62L98.72 111.25L98.86 111.87L99.00 112.50L99.14 113.13L99.28 113.75L99.42 114.37L99.56 114.99L99.70 115.61L99.85 116.23L99.99 116.85L100.14 117.46L100.28 118.07L100.43 118.68L100.58 119.28L100.73 119.88L100.88 120.48L101.03 121.08L101.18 121.68L101.33 122.27L101.48 122.85L101.64 123.44L101.79 124.02L101.95 124.60L102.11 125.17L102.27 125.74L102.42 126.31L102.58 126.87L102.75 127.43L102.91 127.99L103.07 128.54L103.24 129.09L103.40 129.63L103.57 130.17L103.73 130.70L103.90 131.23L104.07 131.76L104.24 132.28L104.41 132.80L104.59 133.31L104.76 133.82L104.93 134.32L105.11 134.81L105.29 135.30L105.46 135.78L105.64 136.25L105.82 136.71L106.00 137.17L106.19 137.63L106.37 138.08L106.55 138.52L106.74 138.97L106.93 139.41L107.11 139.84L107.30 140.28L107.49 140.71L107.69 141.15L107.88 141.58L108.07 142.01L108.27 142.44L108.46 142.87L108.66 143.31L108.86 143.74L109.06 144.18L109.26 144.62L109.46 145.06L109.67 145.50L109.87 145.94L110.08 146.39L110.28 146.84L110.49 147.30L110.70 147.76L110.91 148.23L111.13 148.69L111.34 149.16L111.55 149.63L111.77 150.09L111.99 150.55L112.21 151.02L112.43 151.48L112.65 151.94L112.87 152.40L113.10 152.86L113.32 153.32L113.55 153.77L113.78 154.23L114.01 154.68L114.24 155.13L114.47 155.58L114.71 156.03L114.95 156.48L115.18 156.93L115.42 157.37L115.66 157.81L115.90 158.26L116.15 158.69L116.39 159.13L116.64 159.57L116.89 160.00L117.13 160.43L117.39 160.86L117.64 161.29L117.89 161.72L118.15 162.14L118.40 162.56L118.66 162.98L118.92 163.40L119.18 163.82L119.45 164.23L119.71 164.64L119.98 165.05L120.25 165.46L120.52 165.87L120.79 166.27L121.06 166.67L121.34 167.07L121.61 167.47L121.89 167.86L122.17 168.26L122.45 168.65L122.74 169.04L123.02 169.43L123.31 169.82L123.60 170.20L123.89 170.59L124.18 170.97L124.48 171.35L124.77 171.72L125.07 172.10L125.37 172.47L125.67 172.85L125.98 173.22L126.28 173.59L126.59 173.95L126.90 174.32L127.21 174.68L127.52 175.04L127.84 175.40L128.15 175.76L128.47 176.12L128.79 176.47L129.11 176.82L129.44 177.17L129.77 177.52L130.09 177.87L130.42 178.21L130.76 178.56L131.09 178.90L131.43 179.24L131.77 179.58L132.11 179.91L132.45 180.25L132.80 180.58L133.14 180.91L133.49 181.24L133.84 181.57L134.20 181.89L134.55 182.22L134.91 182.54L135.27 182.86L135.64 183.18L136.00 183.50L136.37 183.81L136.74 184.13L137.11 184.44L137.48 184.75L137.86 185.06L138.24 185.37L138.62 185.67L139.00 185.98L139.39 186.28L139.77 186.58L140.16 186.88L140.56 187.18L140.95 187.47L141.35 187.77L141.75 188.06L142.15 188.35L142.56 188.64L142.96 188.93L143.37 189.21L143.79 189.50L144.20 189.78L144.62 190.06L145.04 190.34L145.46 190.62L145.89 190.89L146.32 191.17L146.75 191.44L147.18 191.71L147.61 191.98L148.05 192.25L148.49 192.51L148.94 192.78L149.39 193.04L149.83 193.30L150.29 193.56L150.74 193.82L151.20 194.08L151.66 194.33L152.12 194.59L152.59 194.84L153.06 195.09L153.53 195.34L154.01 195.58L154.48 195.83L154.97 196.07L155.45 196.32L155.94 196.56L156.43 196.80L156.92 197.03L157.41 197.27L157.91 197.50L158.42 197.74L158.92 197.97L159.43 198.20L159.94 198.43L160.45 198.65L160.97 198.88L161.49 199.10L162.02 199.33L162.54 199.55L163.07 199.77L163.61 199.99L164.15 200.20L164.69 200.42L165.23 200.63L165.78 200.85L166.33 201.06L166.88 201.27L167.44 201.48L168.00 201.69L168.56 201.89L169.13 202.10L169.70 202.30L170.28 202.50L170.85 202.70L171.44 202.90L172.02 203.10L172.61 203.30L173.20 203.49L173.80 203.69L174.40 203.88L175.00 204.07L175.61 204.26L176.22 204.45L176.84 204.64L177.45 204.83L178.08 205.01L178.70 205.20L179.33 205.38L179.97 205.56L180.60 205.74L181.25 205.92L181.89 206.10L182.54 206.28L183.20 206.46L183.85 206.63L184.52 206.81L185.18 206.98L185.85 207.15L186.52 207.32L187.20 207.49L187.89 207.66L188.57 207.82L189.26 207.99L189.96 208.15L190.66 208.32L191.36 208.48L192.07 208.64L192.78 208.80L193.50 208.96L194.22 209.11L194.95 209.27L195.68 209.42L196.41 209.58L197.15 209.73L197.89 209.88L198.64 210.04L199.39 210.19L200.15 210.34L200.91 210.48L201.68 210.63L202.45 210.78L203.23 210.92L204.01 211.07L204.80 211.21L205.59 211.36L206.38 211.50L207.18 211.64L207.99 211.78L208.80 211.93L209.61 212.07L210.43 212.21L211.26 212.34L212.09 212.48L212.93 212.62L213.77 212.76L214.61 212.89L215.46 213.03L216.32 213.16L217.18 213.30L218.05 213.43L218.92 213.57L219.80 213.70L220.68 213.83L221.57 213.96L222.47 214.09L223.37 214.22L224.27 214.36L225.18 214.49L226.10 214.61L227.02 214.74L227.95 214.87L228.88 215.00L229.82 215.13L230.77 215.25L231.72 215.38L232.67 215.50L233.64 215.62L234.60 215.75L235.58 215.87L236.56 215.99L237.55 216.11L238.54 216.23L239.54 216.35L240.54 216.47L241.55 216.59L242.57 216.71L243.59 216.82L244.62 216.94L245.66 217.05L246.70 217.17L247.75 217.28L248.81 217.39L249.87 217.51L250.94 217.62L252.01 217.73L253.09 217.84L254.18 217.95L255.28 218.06L256.38 218.17L257.49 218.28L258.60 218.38L259.72 218.49L260.85 218.60L261.99 218.70L263.13 218.81L264.28 218.91L265.44 219.01L266.60 219.12L267.78 219.22L268.95 219.32L270.14 219.42L271.33 219.52L272.53 219.62L273.74 219.72L274.96 219.82L276.18 219.92L277.41 220.01L278.65 220.11L279.89 220.21L281.15 220.30L282.41 220.40L283.68 220.49L284.96 220.58L286.24 220.68L287.53 220.77L288.83 220.86L290.14 220.95L291.46 221.05L292.78 221.14L294.11 221.23L295.46 221.32L296.81 221.41L298.16 221.50L299.53 221.59L300.90 221.67L302.29 221.76L303.68 221.85L305.08 221.94L306.49 222.02L307.90 222.11L309.33 222.19L310.76 222.28L312.21 222.36L313.66 222.45L315.12 222.53L316.59 222.61L318.07 222.69L319.56 222.77L321.06 222.85L322.56 222.93L324.08 223.01L325.61 223.09L327.14 223.17L328.69 223.25L330.24 223.32L331.80 223.40L333.38 223.47L334.96 223.55L336.55 223.62L338.15 223.70L339.77 223.77L341.39 223.84L343.02 223.92L344.66 223.99L346.31 224.06L347.98 224.13L349.65 224.20L351.33 224.27L353.03 224.34L354.73 224.41L356.45 224.48L358.17 224.55L359.91 224.61L361.65 224.68L363.41 224.75L365.18 224.81L366.96 224.88L368.75 224.95L370.55 225.01L372.36 225.08L374.18 225.14L376.01 225.20L377.86 225.27L379.72 225.33L381.59 225.39L383.47 225.46L385.36 225.52L387.26 225.58L389.17 225.64L391.10 225.70L393.04 225.76L394.99 225.82L396.95 225.88L398.93 225.94L400.91 226.00L402.91 226.06L404.92 226.12L406.95 226.17L408.98 226.23L411.03 226.29L413.09 226.34L415.17 226.40L417.25 226.46L419.35 226.51L421.47 226.57L423.59 226.62L425.73 226.68L427.88 226.73L430.05 226.79L432.22 226.84L434.42 226.89L436.62 226.95L438.84 227.00L441.07 227.05" fill="none" stroke="#ff0000" stroke-width="3" stroke-dasharray="4.28 3.237"/>
<path d="M89.83 5.65L89.91 6.91L89.98 8.17L90.06 9.41L90.13 10.66L90.21 11.89L90.29 13.12L90.36 14.34L90.44 15.55L90.52 16.76L90.59 17.96L90.67 19.15L90.75 20.34L90.83 21.52L90.91 22.70L90.99 23.86L91.07 25.03L91.15 26.18L91.23 27.33L91.31 28.47L91.40 29.61L91.48 30.74L91.56 31.86L91.65 32.98L91.73 34.09L91.81 35.20L91.90 36.30L91.98 37.39L92.07 38.48L92.16 39.56L92.24 40.64L92.33 41.71L92.42 42.77L92.51 43.83L92.60 44.88L92.69 45.93L92.78 46.97L92.87 48.00L92.96 49.03L93.05 50.06L93.14 51.07L93.23 52.09L93.32 53.09L93.42 54.10L93.51 55.09L93.61 56.08L93.70 57.07L93.80 58.05L93.89 59.02L93.99 59.99L94.09 60.95L94.18 61.91L94.28 62.87L94.38 63.81L94.48 64.76L94.58 65.69L94.68 66.63L94.78 67.55L94.88 68.48L94.98 69.39L95.09 70.30L95.19 71.21L95.29 72.11L95.40 73.01L95.50 73.90L95.61 74.79L95.71 75.67L95.82 76.55L95.93 77.42L96.03 78.29L96.14 79.16L96.25 80.01L96.36 80.87L96.47 81.72L96.58 82.56L96.69 83.40L96.80 84.24L96.92 85.07L97.03 85.90L97.14 86.72L97.26 87.54L97.37 88.35L97.49 89.16L97.60 89.96L97.72 90.76L97.84 91.56L97.96 92.35L98.08 93.13L98.20 93.92L98.32 94.69L98.44 95.47L98.56 96.24L98.68 97.00L98.80 97.76L98.93 98.52L99.05 99.27L99.18 100.02L99.30 100.77L99.43 101.51L99.56 102.24L99.68 102.98L99.81 103.70L99.94 104.43L100.07 105.15L100.20 105.87L100.33 106.58L100.46 107.29L100.60 107.99L100.73 108.69L100.86 109.39L101.00 110.08L101.14 110.77L101.27 111.46L101.41 112.14L101.55 112.82L101.69 113.50L101.83 114.17L101.97 114.84L102.11 115.50L102.25 116.16L102.39 116.82L102.53 117.47L102.68 118.12L102.82 118.76L102.97 119.41L103.12 120.05L103.26 120.68L103.41 121.31L103.56 121.94L103.71 122.57L103.86 123.19L104.01 123.81L104.16 124.42L104.32 125.04L104.47 125.64L104.63 126.25L104.78 126.85L104.94 127.45L105.10 128.04L105.25 128.64L105.41 129.23L105.57 129.81L105.73 130.39L105.90 130.97L106.06 131.55L106.22 132.12L106.39 132.69L106.55 133.26L106.72 133.82L106.89 134.39L107.05 134.94L107.22 135.50L107.39 136.05L107.56 136.60L107.74 137.14L107.91 137.69L108.08 138.23L108.26 138.76L108.43 139.30L108.61 139.83L108.79 140.36L108.97 140.88L109.15 141.41L109.33 141.93L109.51 142.44L109.69 142.96L109.88 143.47L110.06 143.98L110.25 144.49L110.43 144.99L110.62 145.49L110.81 145.99L111.00 146.48L111.19 146.98L111.38 147.47L111.57 147.95L111.77 148.44L111.96 148.92L112.16 149.40L112.36 149.88L112.56 150.35L112.76 150.82L112.96 151.29L113.16 151.76L113.36 152.23L113.56 152.69L113.77 153.15L113.98 153.60L114.18 154.06L114.39 154.51L114.60 154.96L114.81 155.41L115.02 155.85L115.24 156.30L115.45 156.74L115.67 157.18L115.88 157.61L116.10 158.04L116.32 158.48L116.54 158.90L116.76 159.33L116.98 159.76L117.21 160.18L117.43 160.60L117.66 161.02L117.89 161.43L118.12 161.84L118.35 162.26L118.58 162.66L118.81 163.07L119.04 163.48L119.28 163.88L119.52 164.28L119.75 164.68L119.99 165.07L120.23 165.47L120.48 165.86L120.72 166.25L120.96 166.64L121.21 167.02L121.46 167.41L121.71 167.79L121.96 168.17L122.21 168.55L122.46 168.92L122.71 169.30L122.97 169.67L123.23 170.04L123.48 170.41L123.74 170.77L124.01 171.14L124.27 171.50L124.53 171.86L124.80 172.22L125.07 172.57L125.33 172.93L125.60 173.28L125.88 173.63L126.15 173.98L126.42 174.33L126.70 174.67L126.98 175.02L127.26 175.36L127.54 175.70L127.82 176.04L128.10 176.38L128.39 176.71L128.67 177.04L128.96 177.37L129.25 177.70L129.54 178.03L129.84 178.36L130.13 178.68L130.43 179.01L130.73 179.33L131.03 179.65L131.33 179.96L131.63 180.28L131.94 180.59L132.24 180.91L132.55 181.22L132.86 181.53L133.17 181.83L133.49 182.14L133.80 182.44L134.12 182.75L134.44 183.05L134.76 183.35L135.08 183.65L135.40 183.94L135.73 184.24L136.06 184.53L136.38 184.82L136.72 185.11L137.05 185.40L137.38 185.69L137.72 185.97L138.06 186.26L138.40 186.54L138.74 186.82L139.08 187.10L139.43 187.38L139.78 187.65L140.13 187.93L140.48 188.20L140.83 188.47L141.19 188.74L141.55 189.01L141.91 189.28L142.27 189.54L142.63 189.81L143.00 190.07L143.36 190.33L143.73 190.59L144.11 190.85L144.48 191.11L144.85 191.36L145.23 191.62L145.61 191.87L145.99 192.12L146.38 192.37L146.76 192.62L147.15 192.86L147.54 193.11L147.94 193.35L148.33 193.60L148.73 193.84L149.13 194.08L149.53 194.32L149.93 194.55L150.34 194.79L150.75 195.02L151.16 195.26L151.57 195.49L151.98 195.72L152.40 195.95L152.82 196.18L153.24 196.40L153.67 196.63L154.09 196.85L154.52 197.07L154.95 197.29L155.39 197.51L155.82 197.73L156.26 197.95L156.70 198.17L157.14 198.38L157.59 198.59L158.04 198.81L158.49 199.02L158.94 199.23L159.40 199.43L159.85 199.64L160.32 199.85L160.78 200.05L161.24 200.25L161.71 200.46L162.18 200.66L162.66 200.86L163.13 201.06L163.61 201.25L164.09 201.45L164.58 201.64L165.06 201.84L165.55 202.03L166.04 202.22L166.54 202.41L167.04 202.60L167.54 202.79L168.04 202.97L168.55 203.16L169.05 203.34L169.57 203.53L170.08 203.71L170.60 203.89L171.12 204.07L171.64 204.25L172.17 204.43L172.69 204.60L173.23 204.78L173.76 204.95L174.30 205.13L174.84 205.30L175.38 205.47L175.93 205.64L176.48 205.81L177.03 205.98L177.58 206.15L178.14 206.31L178.70 206.48L179.27 206.64L179.84 206.80L180.41 206.97L180.98 207.13L181.56 207.29L182.14 207.45L182.72 207.60L183.31 207.76L183.90 207.92L184.49 208.07L185.09 208.23L185.69 208.38L186.29 208.53L186.90 208.69L187.51 208.84L188.12 208.99L188.74 209.14L189.36 209.28L189.98 209.43L190.61 209.58L191.24 209.72L191.87 209.87L192.51 210.01L193.15 210.15L193.80 210.29L194.44 210.44L195.10 210.58L195.75 210.72L196.41 210.85L197.07 210.99L197.74 211.13L198.41 211.26L199.08 211.40L199.76 211.53L200.44 211.67L201.12 211.80L201.81 211.93L202.50 212.06L203.20 212.19L203.90 212.32L204.60 212.45L205.31 212.58L206.02 212.71L206.74 212.84L207.46 212.96L208.18 213.09L208.91 213.21L209.64 213.34L210.38 213.46L211.11 213.58L211.86 213.70L212.61 213.82L213.36 213.94L214.11 214.06L214.87 214.18L215.64 214.30L216.41 214.42L217.18 214.53L217.96 214.65L218.74 214.76L219.52 214.88L220.31 214.99L221.11 215.11L221.91 215.22L222.71 215.33L223.52 215.44L224.33 215.55L225.15 215.66L225.97 215.77L226.79 215.88L227.62 215.99L228.46 216.10L229.30 216.21L230.14 216.31L230.99 216.42L231.84 216.52L232.70 216.63L233.56 216.73L234.43 216.83L235.30 216.94L236.18 217.04L237.06 217.14L237.95 217.24L238.84 217.34L239.74 217.44L240.64 217.54L241.54 217.64L242.46 217.74L243.37 217.84L244.29 217.93L245.22 218.03L246.15 218.13L247.09 218.22L248.03 218.32L248.98 218.41L249.93 218.50L250.89 218.60L251.85 218.69L252.82 218.78L253.80 218.88L254.77 218.97L255.76 219.06L256.75 219.15L257.74 219.24L258.75 219.33L259.75 219.41L260.76 219.50L261.78 219.59L262.81 219.68L263.83 219.76L264.87 219.85L265.91 219.94L266.95 220.02L268.01 220.11L269.06 220.19L270.13 220.27L271.20 220.36L272.27 220.44L273.35 220.52L274.44 220.61L275.53 220.69L276.63 220.77L277.74 220.85L278.85 220.93L279.97 221.01L281.09 221.09L282.22 221.17L283.36 221.24L284.50 221.32L285.65 221.40L286.80 221.48L287.96 221.55L289.13 221.63L290.31 221.71L291.49 221.78L292.67 221.86L293.87 221.93L295.07 222.01L296.28 222.08L297.49 222.15L298.71 222.23L299.94 222.30L301.17 222.37L302.41 222.44L303.66 222.51L304.91 222.58L306.17 222.65L307.44 222.72L308.72 222.79L310.00 222.86L311.29 222.93L312.59 223.00L313.89 223.07L315.20 223.14L316.52 223.20L317.84 223.27L319.18 223.34L320.52 223.40L321.86 223.47L323.22 223.54L324.58 223.60L325.95 223.67L327.33 223.73L328.71 223.79L330.11 223.86L331.51 223.92L332.92 223.99L334.33 224.05L335.76 224.11L337.19 224.17L338.63 224.23L340.07 224.30L341.53 224.36L342.99 224.42L344.47 224.48L345.94 224.54L347.43 224.60L348.93 224.66L350.43 224.72L351.95 224.77L353.47 224.83L355.00 224.89L356.53 224.95L358.08 225.01L359.64 225.06L361.20 225.12L362.77 225.18L364.35 225.23L365.94 225.29L367.54 225.34L369.15 225.40L370.76 225.45L372.39 225.51L374.02 225.56L375.66 225.62L377.32 225.67L378.98 225.72L380.65 225.78L382.33 225.83L384.01 225.88L385.71 225.94L387.42 225.99L389.14 226.04L390.86 226.09L392.60 226.14L394.34 226.19L396.10 226.24L397.86 226.29L399.64 226.34L401.42 226.39L403.22 226.44L405.02 226.49L406.84 226.54L408.66 226.59L410.49 226.64L412.34 226.69L414.19 226.73L416.06 226.78L417.93 226.83L419.82 226.88L421.71 226.92L423.62 226.97L425.54 227.02L427.46 227.06L429.40 227.11L431.35 227.15L433.31 227.20L435.28 227.24L437.26 227.29L439.25 227.33L441.25 227.38" fill="none" stroke="#0000ff" stroke-width="3.5" stroke-dasharray="4.14 3.34 8.69 3.34"/>
</g>
<g font-family="'Liberation Serif', serif" font-size="17" fill="#000" style="will-change:transform;text-rendering:geometricPrecision">
<text transform="translate(62.6 241.85) scale(1.085 1)" text-anchor="end" font-size="17.2">0.0</text>
<text transform="translate(62.6 196.83) scale(1.085 1)" text-anchor="end" font-size="17.2">0.2</text>
<text transform="translate(62.6 151.81) scale(1.085 1)" text-anchor="end" font-size="17.2">0.4</text>
<text transform="translate(62.6 106.79) scale(1.085 1)" text-anchor="end" font-size="17.2">0.6</text>
<text transform="translate(62.6 61.77) scale(1.085 1)" text-anchor="end" font-size="17.2">0.8</text>
<text transform="translate(62.6 16.75) scale(1.085 1)" text-anchor="end" font-size="17.2">1.0</text>
<text transform="translate(76.52 259.9) scale(1.085 1)" text-anchor="middle" font-size="17.2">0</text>
<text transform="translate(149.16 259.9) scale(1.085 1)" text-anchor="middle" font-size="17.2">2</text>
<text transform="translate(221.80 259.9) scale(1.085 1)" text-anchor="middle" font-size="17.2">4</text>
<text transform="translate(294.44 259.9) scale(1.085 1)" text-anchor="middle" font-size="17.2">6</text>
<text transform="translate(367.08 259.9) scale(1.085 1)" text-anchor="middle" font-size="17.2">8</text>
<text transform="translate(439.72 259.9) scale(1.085 1)" text-anchor="middle" font-size="17.2">10</text>
<text y="293.5" font-size="17.5"><tspan x="215.4" font-style="italic">Q</tspan><tspan x="232.3" dy="-6.9" font-size="13.2">2</tspan><tspan x="240.9" dy="6.9">(</tspan><tspan x="252.0">GeV</tspan><tspan dx="-0.4" dy="-6.9" font-size="13.2">2</tspan><tspan x="293.3" dy="6.9">)</tspan></text>
<g transform="translate(21.0 179.0) rotate(-90)" font-style="italic" font-size="17.75">
<text x="0" y="0">λ</text>
<text x="8.8" y="3.4" font-size="13">i</text>
<text x="9.7" y="-8.8" font-size="13" font-style="normal">2</text>
<text x="19.6" y="0">F</text>
<text x="32.0" y="3.4" font-size="13">π</text>
<text x="44.0" y="0" font-style="normal">(</text>
<text x="53.2" y="0">Q</text>
<text x="69.6" y="-8.8" font-size="13" font-style="normal">2</text>
<text x="78.6" y="0" font-style="normal">,</text>
<text x="88.0" y="0">μ</text>
<text x="101.0" y="3.4" font-size="13">i</text>
<text x="106.6" y="0" font-style="normal">)</text>
</g>
</g>
</svg>
</body></html>
